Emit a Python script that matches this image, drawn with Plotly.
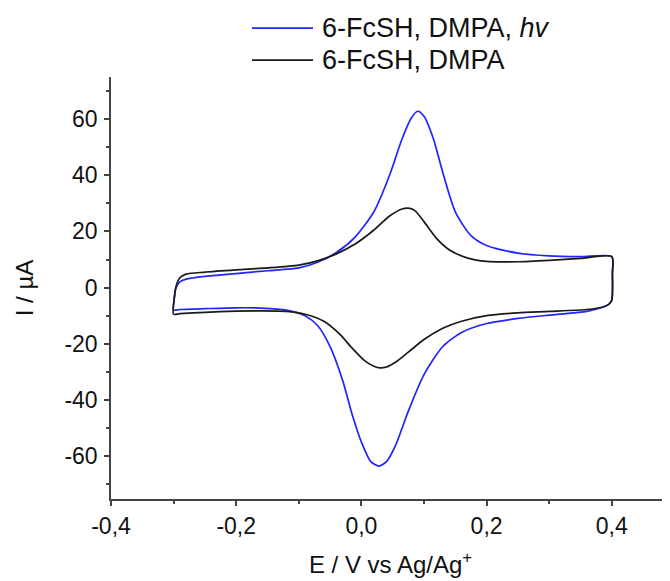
import plotly.graph_objects as go

# Blue: 6-FcSH, DMPA, hv  (forward/anodic scan then reverse/cathodic scan)
E_blue = [-0.300, -0.299, -0.296, -0.290, -0.280, -0.250, -0.200, -0.150, -0.100, -0.070,
          -0.040, -0.010, 0.020, 0.045, 0.065, 0.080, 0.090, 0.100, 0.115, 0.130,
          0.150, 0.175, 0.200, 0.250, 0.300, 0.350, 0.400,
          0.401, 0.400, 0.395, 0.385, 0.360, 0.300, 0.250, 0.200, 0.160, 0.130,
          0.100, 0.075, 0.055, 0.040, 0.028, 0.015, 0.000, -0.015, -0.030, -0.050,
          -0.070, -0.090, -0.120, -0.160, -0.200, -0.250, -0.290, -0.300]
I_blue = [-8.0, -4.0, 0.0, 2.0, 3.0, 4.0, 5.0, 6.0, 7.0, 9.0,
          12.5, 18.0, 27.0, 40.0, 53.0, 60.5, 62.8, 61.0, 53.0, 41.0,
          27.0, 18.5, 15.0, 12.3, 11.3, 11.0, 11.0,
          5.0, -4.5, -6.0, -7.0, -8.5, -9.8, -11.0, -12.8, -16.0, -21.0,
          -31.0, -44.0, -56.0, -62.0, -63.6, -62.0, -55.0, -45.0, -33.0, -21.0,
          -13.5, -10.0, -8.0, -7.3, -7.2, -7.5, -7.8, -8.0]

# Black: 6-FcSH, DMPA
E_black = [-0.300, -0.299, -0.296, -0.290, -0.280, -0.250, -0.200, -0.150, -0.100, -0.070,
           -0.040, -0.010, 0.020, 0.045, 0.065, 0.075, 0.085, 0.100, 0.120, 0.140,
           0.170, 0.200, 0.250, 0.300, 0.350, 0.400,
           0.401, 0.400, 0.395, 0.385, 0.360, 0.300, 0.250, 0.200, 0.160, 0.130,
           0.100, 0.075, 0.055, 0.040, 0.030, 0.020, 0.005, -0.015, -0.035, -0.060,
           -0.090, -0.120, -0.160, -0.200, -0.250, -0.290, -0.300]
I_black = [-9.5, -4.0, 0.5, 3.5, 4.8, 5.5, 6.3, 7.0, 8.0, 9.5,
           12.0, 15.5, 20.5, 25.5, 28.0, 28.3, 27.5, 23.5, 17.5, 13.5,
           10.5, 9.3, 9.2, 9.7, 10.4, 11.0,
           5.0, -4.5, -6.0, -7.0, -7.8, -8.5, -9.0, -10.0, -12.0, -14.5,
           -18.5, -23.0, -26.5, -28.3, -28.6, -28.0, -26.0, -21.5, -16.5, -12.0,
           -9.5, -8.5, -8.3, -8.4, -8.8, -9.3, -9.5]

x_tickvals = [-0.4, -0.2, 0.0, 0.2, 0.4]
x_ticktext = ["-0,4", "-0,2", "0,0", "0,2", "0,4"]
y_tickvals = [-60, -40, -20, 0, 20, 40, 60]
y_ticktext = ["-60", "-40", "-20", "0", "20", "40", "60"]

series_names = ["6-FcSH, DMPA, <i>hv</i>", "6-FcSH, DMPA"]
series_colors = ["#2323ff", "#1a1a1a"]

FONT = "Liberation Sans, Arial, sans-serif"

fig = go.Figure()
fig.add_trace(go.Scatter(x=E_blue, y=I_blue, mode="lines", name=series_names[0], showlegend=False,
                         line=dict(color=series_colors[0], width=1.7, shape="spline", smoothing=0.7)))
fig.add_trace(go.Scatter(x=E_black, y=I_black, mode="lines", name=series_names[1], showlegend=False,
                         line=dict(color=series_colors[1], width=1.7, shape="spline", smoothing=0.7)))

axis_common = dict(showline=True, linecolor="#444444", linewidth=1.5, ticks="outside",
                   tickcolor="#444444", ticklen=5, tickwidth=1.5, showgrid=False, zeroline=False,
                   tickfont=dict(family=FONT, size=23, color="#111111"), mirror=False)

# Legend drawn in paper coordinates (long sample lines as in the reference)
leg_rows_y = [1.116, 1.040]
for name, color, yy in zip(series_names, series_colors, leg_rows_y):
    fig.add_shape(type="line", xref="paper", yref="paper", x0=0.2522, x1=0.3614, y0=yy, y1=yy,
                  line=dict(color=color, width=1.7))
    fig.add_annotation(xref="paper", yref="paper", x=0.3739, y=yy, xanchor="left", yanchor="middle",
                       text=name, showarrow=False, font=dict(family=FONT, size=27, color="#111111"))

# The page body adds an 8px offset, so the figure is sized/margined to compensate.
fig.update_layout(
    width=662, height=573,
    paper_bgcolor="white", plot_bgcolor="white",
    margin=dict(l=103, r=0, t=69, b=82, autoexpand=False),
    font=dict(family=FONT, size=23, color="#111111"),
    xaxis=dict(range=[-0.4, 0.493], tickvals=x_tickvals, ticktext=x_ticktext,
               ticklabelstandoff=1,
               minor=dict(tickvals=[-0.3, -0.1, 0.1, 0.3], ticks="outside", ticklen=3,
                          tickcolor="#444444", tickwidth=1.5),
               title=dict(text="E / V vs Ag/Ag<sup>+</sup>", font=dict(size=24), standoff=18),
               **axis_common),
    yaxis=dict(range=[-75.3, 75], tickvals=y_tickvals, ticktext=y_ticktext,
               ticklabelstandoff=2,
               minor=dict(tickvals=[-70, -50, -30, -10, 10, 30, 50, 70], ticks="outside", ticklen=3,
                          tickcolor="#444444", tickwidth=1.5),
               title=dict(text="I / µA", font=dict(size=24), standoff=24),
               **axis_common),
    showlegend=False,
)

fig.write_html("out.html")
